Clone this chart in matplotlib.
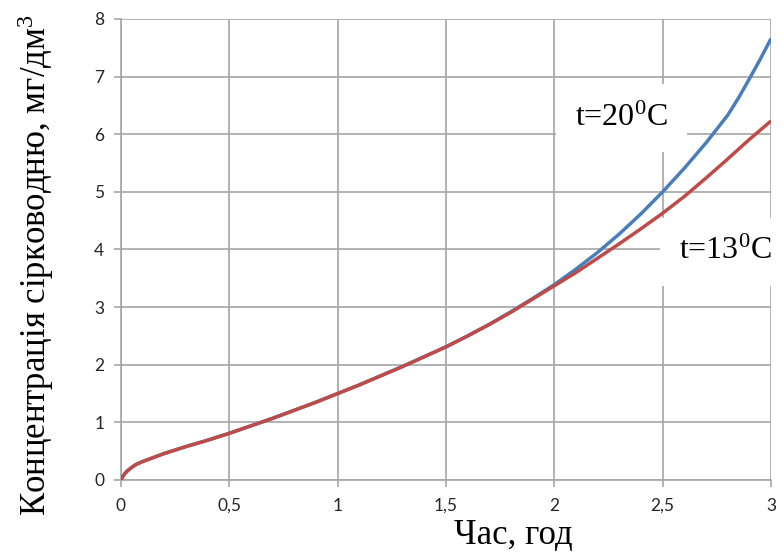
"""Hydrogen sulphide concentration vs time at two temperatures."""

import matplotlib
matplotlib.use("Agg")
import matplotlib.pyplot as plt

# time, hours
hours = [0, 0.01, 0.02, 0.03, 0.05, 0.07, 0.1, 0.15, 0.2, 0.3, 0.4, 0.5,
         0.6, 0.7, 0.8, 0.9, 1.0, 1.1, 1.2, 1.3, 1.4, 1.5, 1.6, 1.7, 1.8,
         1.9, 2.0, 2.1, 2.2, 2.3, 2.4, 2.5, 2.6, 2.7, 2.8, 2.85, 2.9, 2.95,
         3.0]

# concentration, mg/dm3, t = 13 C
conc_13 = [0, 0.07, 0.12, 0.16, 0.22, 0.27, 0.32, 0.39, 0.46, 0.58, 0.69,
           0.81, 0.94, 1.07, 1.21, 1.35, 1.50, 1.65, 1.81, 1.97, 2.14, 2.31,
           2.50, 2.70, 2.91, 3.14, 3.37, 3.60, 3.85, 4.10, 4.36, 4.63, 4.92,
           5.24, 5.57, 5.74, 5.91, 6.07, 6.23]

# concentration, mg/dm3, t = 20 C
conc_20 = [0, 0.07, 0.12, 0.16, 0.22, 0.27, 0.32, 0.39, 0.46, 0.58, 0.69,
           0.81, 0.94, 1.07, 1.21, 1.35, 1.50, 1.65, 1.81, 1.97, 2.14, 2.31,
           2.50, 2.70, 2.92, 3.15, 3.39, 3.66, 3.95, 4.27, 4.62, 5.00, 5.41,
           5.85, 6.33, 6.63, 6.96, 7.30, 7.66]

x_ticks = [0, 0.5, 1, 1.5, 2, 2.5, 3]
x_tick_labels = ["0", "0,5", "1", "1,5", "2", "2,5", "3"]
y_ticks = [0, 1, 2, 3, 4, 5, 6, 7, 8]

plt.rcParams.update({
    "font.family": ["Lato", "DejaVu Sans"],
    "mathtext.fontset": "custom",
    "mathtext.rm": "Liberation Serif",
    "mathtext.it": "Liberation Serif",
})

serif = ["Liberation Serif", "DejaVu Serif"]
grid_c = "#a6a6a6"

fig = plt.figure(figsize=(7.83, 5.58), dpi=100)
ax = fig.add_axes([0.1545, 0.1398, 0.8302, 0.8262])

ax.plot(hours, conc_20, color="#4a7ebb", lw=2.5, zorder=4,
        solid_capstyle="butt", solid_joinstyle="round")
ax.plot(hours, conc_13, color="#be4b48", lw=2.5, zorder=5,
        solid_capstyle="butt", solid_joinstyle="round")

ax.set_xlim(0, 3)
ax.set_ylim(0, 8)
ax.set_xticks(x_ticks)
ax.set_xticklabels(x_tick_labels)
ax.set_yticks(y_ticks)
ax.tick_params(axis="both", labelsize=12.5, colors=grid_c,
               labelcolor="#262626", length=5, width=1.2, direction="out")
ax.tick_params(axis="x", pad=8)
ax.tick_params(axis="y", pad=7)

ax.grid(True, color=grid_c, lw=1.2, zorder=1)
for side in ("top", "right"):
    ax.spines[side].set_visible(False)
for side in ("left", "bottom"):
    ax.spines[side].set_color(grid_c)
    ax.spines[side].set_linewidth(1.2)

box = dict(boxstyle="square,pad=0.6", facecolor="white", edgecolor="none")
ax.text(2.31, 6.28, r"t=20$^{\mathrm{0}}$C", family=serif, fontsize=23,
        ha="center", va="center", bbox=box, zorder=3)
ax.text(2.79, 3.96, r"t=13$^{\mathrm{0}}$C", family=serif, fontsize=23,
        ha="center", va="center", bbox=box, zorder=3, clip_on=False)

fig.text(0.655, 0.01, "Час, год", family=serif, fontsize=25,
         ha="center", va="bottom")
fig.text(0.045, 0.525, r"Концентрація сірководню, мг/дм$^{\mathrm{3}}$",
         family=serif, fontsize=25, rotation=90, ha="center", va="center")

fig.savefig("out.png", dpi=100)
